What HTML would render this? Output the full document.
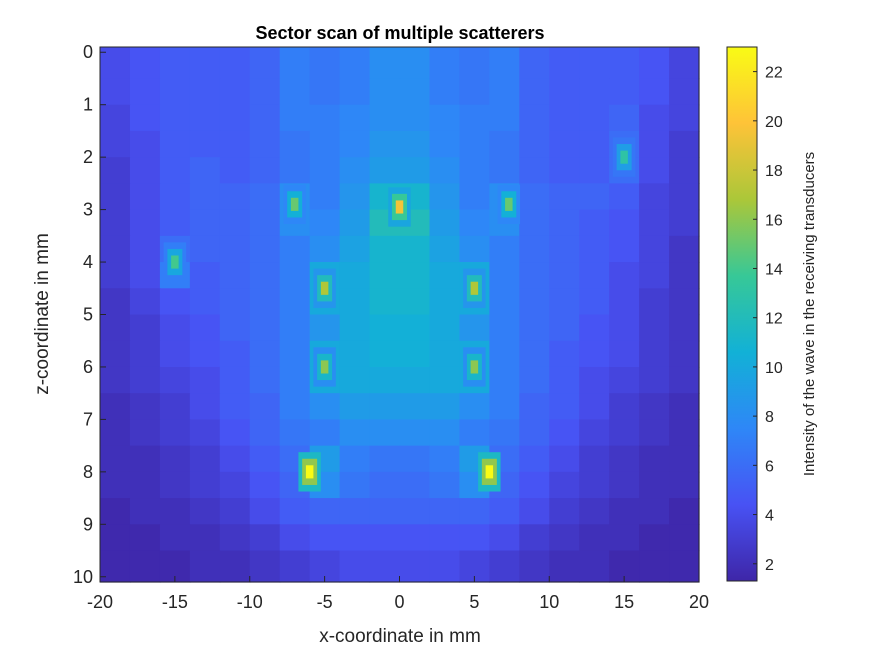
<!DOCTYPE html>
<html><head><meta charset="utf-8">
<style>
body{margin:0;background:#fff;}
svg{display:block;font-family:"Liberation Sans",Arial,sans-serif;}
</style></head>
<body>
<svg id="chart" width="875" height="656"></svg>
<script>
const xCenters=[-19,-17,-15,-13,-11,-9,-7,-5,-3,-1,1,3,5,7,9,11,13,15,17,19];
const zCenters=[0.25,0.75,1.25,1.75,2.25,2.75,3.25,3.75,4.25,4.75,5.25,5.75,6.25,6.75,7.25,7.75,8.25,8.75,9.25,9.75];
const intensity=[
[4,4.5,5,5,5,5.5,7,6.5,7,8,8,7,6.5,7,5.5,5,5,5,4.5,3.5],
[4,4.5,5,5,5,5.5,7,6.5,7,8,8,7,6.5,7,5.5,5,5,5,4.5,3.5],
[3.5,4.5,5,5,5,5.5,7,7,7.5,8,8,7.5,7,7,5.5,5,5,5.5,4,3.5],
[3.5,4,5,5,5,5.5,6.5,7,7.5,8.5,8.5,7.5,7,6.5,5.5,5,5,6,4,3],
[3,4,5,5.5,5,5.5,6.5,7,8,9,9,8,7,6.5,5.5,5,5,6,4,3],
[3,4,5,5.5,5.5,6,8,7,8.5,11,11,8.5,7,8,6,5.5,5.5,5,3.5,3],
[3,4,5,5.5,5.5,6,8,7.5,9,12,12,9,7.5,8,6,5.5,5,4.5,3.5,3],
[3,4,6,5.5,5.5,6,7,8,9.5,11,11,9.5,8,7,6,5.5,5,4.5,3.5,2.5],
[3,4,7,5,5.5,6,7,10,10,11,11,10,10,7,6,5.5,5,4,3.5,2.5],
[2.5,3.5,4.5,5,5.5,6,7,10,10,11,11,10,10,7,6,5.5,5,4,3,2.5],
[2.5,3,4,4.5,5.5,6,7,8.5,10,10.5,10.5,10,8.5,7,6,5.5,4.5,4,3,2.5],
[2.5,3,4,4.5,5,6,7,10,10,10.5,10.5,10,10,7,6,5,4.5,4,3,2.5],
[2.5,3,3.5,4,5,6,7,10,10,10,10,10,10,7,6,5,4,3.5,3,2.5],
[2,2.5,3,4,5,5.5,7,8,9,9,9,9,8,7,5.5,5,4,3,2.5,2],
[2,2.5,3,3.5,4.5,5.5,6.5,7,8,8,8,8,7,6.5,5.5,4.5,3.5,3,2.5,2],
[2,2,2.5,3,4,5,6,9,7,6.5,6.5,7,9,6,5,4,3,2.5,2,2],
[2,2,2.5,3,3.5,4.5,5.5,8,6.5,6,6,6.5,8,5.5,4.5,3.5,3,2.5,2,2],
[1.5,2,2,2.5,3,4,5,5.5,5.5,5.5,5.5,5.5,5.5,5,4,3,2.5,2,2,1.5],
[1.5,1.5,2,2,2.5,3,4,4.5,4.5,4.5,4.5,4.5,4.5,4,3,2.5,2,2,1.5,1.5],
[1.5,1.5,1.5,2,2,2.5,3,3.5,4,4,4,4,3.5,3,2.5,2,2,1.5,1.5,1.5]];
const scX=[0,-7,7.3,-15,15,-5,5,-5,5,-6,6];
const scZ=[2.95,2.9,2.9,4,2,4.5,4.5,6,6,8,8];
const scPeak=[19.5,15,15,14,13,17,17,16,16,23,23];
const xTicks=[-20,-15,-10,-5,0,5,10,15,20];
const zTicks=[0,1,2,3,4,5,6,7,8,9,10];
const cTicks=[2,4,6,8,10,12,14,16,18,20,22];

const L=100,R=699,T=47,B=582;
const X=x=>L+(x+20)/40*(R-L);
const Z=z=>T+(z+0.1)/10.2*(B-T);
const cmin=1.3,cmax=23;
const CT=47,CB=581,CL=727,CR=757;
const C=v=>CB-(v-cmin)/(cmax-cmin)*(CB-CT);
const par=[[62,38,168],[72,82,244],[46,135,247],[18,177,214],[55,200,151],[171,199,57],[254,195,56],[249,251,21]];
function col(v){let t=Math.max(0,Math.min(1,(v-cmin)/(cmax-cmin)))*7;let i=Math.min(6,Math.floor(t)),f=t-i;
const a=par[i],b=par[i+1];return `rgb(${a.map((c,k)=>Math.round(c+(b[k]-c)*f)).join(',')})`;}
const svg=document.getElementById('chart');const NS='http://www.w3.org/2000/svg';
function mk(t,at,p){const e=document.createElementNS(NS,t);for(const k in at)e.setAttribute(k,at[k]);(p||svg).appendChild(e);return e;}
const g=mk('g',{});


const dx=2,dz=0.5;
zCenters.forEach((z,r)=>xCenters.forEach((x,c)=>{
 const x0=Math.max(-20.0,x-dx/2),x1=Math.min(20,x+dx/2);
 const z0=r==0?-0.1:z-dz/2,z1=r==zCenters.length-1?10.1:z+dz/2;
 const e=mk('rect',{x:X(x0),y:Z(z0),width:X(x1)-X(x0)+0.6,height:Z(z1)-Z(z0)+0.6,fill:col(intensity[r][c])},g);
 
 
}));
scX.forEach((x,i)=>{
 const z=scZ[i],p=scPeak[i];
 [[1.5,0.75,0.5],[1.0,0.5,0.7],[0.5,0.25,1]].forEach(([w,h,f])=>{
  const v=Math.max(p*f,0);
  const e=mk('rect',{x:X(x-w/2),y:Z(z-h/2),width:X(w)-X(0),height:Z(h)-Z(0),fill:col(v)},g);
  
  
 });
});
mk('rect',{x:L,y:T,width:R-L,height:B-T,fill:'none',stroke:'#262626','stroke-width':1});
xTicks.forEach(t=>{const x=X(t);mk('line',{x1:x,x2:x,y1:B,y2:B-6,stroke:'#262626'});
 const e=mk('text',{x:x,y:B+26,'text-anchor':'middle','font-size':18,fill:'#262626'});e.textContent=t;
 });
zTicks.forEach(t=>{const y=Z(t);mk('line',{x1:L,x2:L+6,y1:y,y2:y,stroke:'#262626'});
 const e=mk('text',{x:L-7,y:y+6,'text-anchor':'end','font-size':18,fill:'#262626'});e.textContent=t;
 });
const defs=mk('defs',{});const lg=mk('linearGradient',{id:'cb',x1:0,y1:1,x2:0,y2:0},defs);
par.forEach((c,i)=>mk('stop',{offset:(i/7),'stop-color':`rgb(${c.join(',')})`},lg));
const cb=mk('rect',{x:CL,y:CT,width:CR-CL,height:CB-CT,fill:'url(#cb)',stroke:'#262626'});

cTicks.forEach(t=>{const y=C(t);mk('line',{x1:CR,x2:CR-4,y1:y,y2:y,stroke:'#262626'});
 const e=mk('text',{x:CR+8,y:y+6,'font-size':16,fill:'#262626'});e.textContent=t;
 });
</script>
<svg style="position:absolute;left:0;top:0" width="875" height="656">
<text x="400" y="39" text-anchor="middle" font-size="18" font-weight="bold" fill="#000" font-family="Liberation Sans,sans-serif">Sector scan of multiple scatterers</text>
<text x="400" y="642" text-anchor="middle" font-size="19" fill="#262626" font-family="Liberation Sans,sans-serif">x-coordinate in mm</text>
<text transform="translate(48,314) rotate(-90)" text-anchor="middle" font-size="19" fill="#262626" font-family="Liberation Sans,sans-serif">z-coordinate in mm</text>
<text transform="translate(814,314) rotate(-90)" text-anchor="middle" font-size="15" fill="#262626" font-family="Liberation Sans,sans-serif">Intensity of the wave in the receiving transducers</text>
</svg>
</body></html>
